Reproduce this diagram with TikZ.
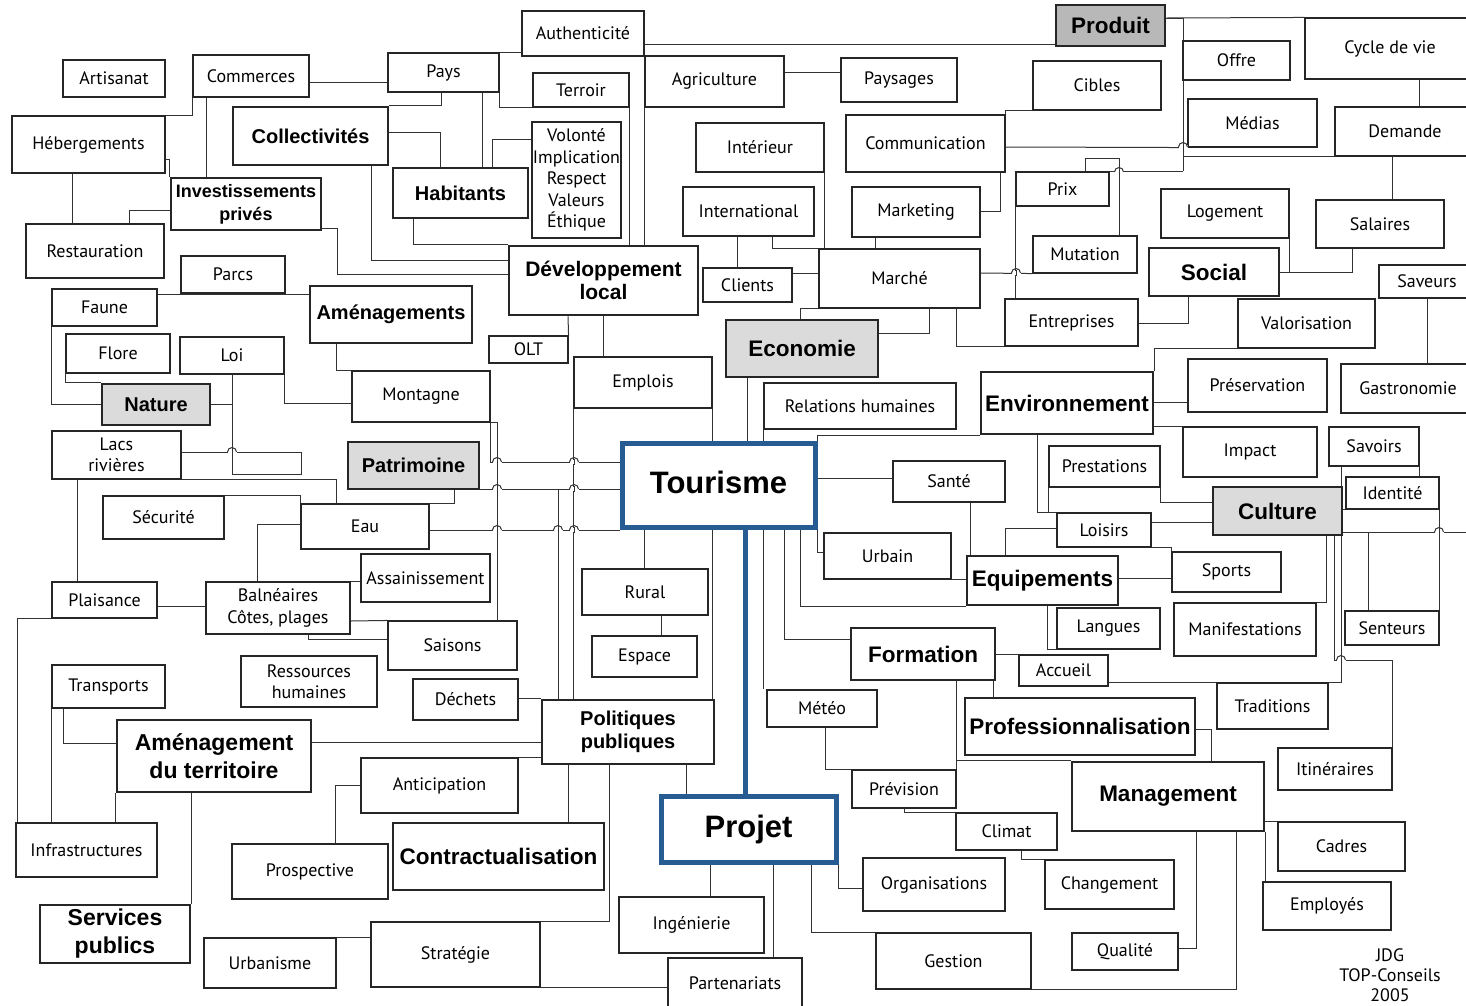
\documentclass[tikz,border=0pt]{standalone}
\usepackage{fontspec}
\setmainfont{PT Sans}
\newfontfamily\headfont{Liberation Sans}
\usetikzlibrary{backgrounds}
\definecolor{tourblue}{RGB}{38,92,145}
\tikzset{
  box/.style={draw=black!85, line width=1.1pt, fill=white, inner sep=0pt, align=center,
    font=\fontsize{18}{21.5}\selectfont},
  wh/.style 2 args={minimum width=#1, minimum height=#2},
  keybox/.style={box, line width=2.6pt, font=\headfont\bfseries\fontsize{22.5}{26}\selectfont},
  smallkey/.style={keybox, font=\headfont\bfseries\fontsize{20}{23}\selectfont},
  greybox/.style={fill=black!14},
  hub/.style={box, draw=tourblue, line width=5pt, font=\headfont\bfseries\fontsize{31}{34}\selectfont},
  link/.style={draw=black!80, line width=1pt},
  hubline/.style={draw=tourblue, line width=5pt},
}
% small bump where a line jumps over another one
\newcommand\linehop[1]{%
  \fill[white] (#1) ++(-4.5,-1.6) rectangle ++(9,3.2);
  \draw[link] (#1) ++(0,-3) -- ++(0,6);
  \draw[link] (#1) ++(-4.5,0) arc[start angle=180, end angle=360, radius=4.5];}

\begin{document}
\begin{tikzpicture}[x=1pt, y=-1pt]
  \useasboundingbox (0,0) rectangle (1466,1005);

  % left column
  \node[box, wh={102}{37}] (artisanat) at (114,78.5) {Artisanat};
  \node[box, wh={116}{42}] (commerces) at (251,76) {Commerces};
  \node[box, wh={153}{57}] (hebergements) at (88.5,144.5) {Hébergements};
  \node[smallkey, wh={155}{58}] (collectivites) at (310.5,136) {Collectivités};
  \node[keybox, wh={150}{52}, font=\headfont\bfseries\fontsize{18}{23}\selectfont] (investissements) at (246,204) {Investissements\\privés};
  \node[box, wh={138}{54}] (restauration) at (95,251) {Restauration};
  \node[box, wh={104}{37}] (parcs) at (233,274.5) {Parcs};
  \node[box, wh={105}{37}] (faune) at (104.5,307.5) {Faune};
  \node[smallkey, wh={162}{57}] (amenagements) at (391,314.5) {Aménagements};
  \node[box, wh={104}{39}] (flore) at (118,353.5) {Flore};
  \node[box, wh={104}{37}] (loi) at (232,355.5) {Loi};
  \node[smallkey, greybox, wh={108}{41}] (nature) at (156,404.5) {Nature};
  \node[box, wh={129}{48}] (lacs) at (116.5,455) {Lacs\\rivières};
  \node[box, wh={121}{43}] (securite) at (163.5,517.5) {Sécurité};
  \node[box, wh={128}{45}] (eau) at (365,526.5) {Eau};
  \node[box, wh={105}{36}] (plaisance) at (104.5,600) {Plaisance};
  \node[box, wh={144}{52}] (balneaires) at (278,608) {Balnéaires\\Côtes, plages};
  \node[box, wh={129}{48}] (assainissement) at (425.5,578) {Assainissement};
  \node[box, wh={113}{43}] (transports) at (108.5,686.5) {Transports};
  \node[box, wh={136}{51}] (ressources) at (309,681.5) {Ressources\\humaines};
  \node[keybox, wh={194}{72}, font=\headfont\bfseries\fontsize{23}{28}\selectfont] (amenterr) at (214,756) {Aménagement\\du territoire};
  \node[box, wh={141}{54}] (infrastructures) at (86.5,850) {Infrastructures};
  \node[box, wh={156}{55}] (prospective) at (310,871.5) {Prospective};
  \node[keybox, wh={150}{58}, font=\headfont\bfseries\fontsize{23}{28}\selectfont] (services) at (115,934) {Services\\publics};
  \node[box, wh={132}{50}] (urbanisme) at (270,963) {Urbanisme};

  % centre column
  \node[box, wh={122}{45}] (authenticite) at (583,33.5) {Authenticité};
  \node[box, wh={111}{39}] (pays) at (443.5,72.5) {Pays};
  \node[box, wh={96}{34}] (terroir) at (581,90) {Terroir};
  \node[box, line width=1.8pt, wh={89}{116}] (volonte) at (576.5,180) {Volonté\\Implication\\Respect\\Valeurs\\Éthique};
  \node[smallkey, wh={135}{50}] (habitants) at (460.5,193) {Habitants};
  \node[keybox, wh={189}{69}, font=\headfont\bfseries\fontsize{21}{23}\selectfont] (devlocal) at (603.5,280.5) {Développement\\local};
  \node[box, wh={79}{27}] (olt) at (528.5,349.5) {OLT};
  \node[box, wh={138}{51}] (montagne) at (421,396.5) {Montagne};
  \node[box, wh={138}{51}] (emplois) at (643,382.5) {Emplois};
  \node[smallkey, greybox, wh={131}{47}] (patrimoine) at (413.5,465.5) {Patrimoine};
  \node[hub, wh={193}{84}] (tourisme) at (718.5,485) {\raisebox{6pt}{Tourisme}};
  \node[box, wh={129}{49}] (saisons) at (452.5,645.5) {Saisons};
  \node[box, wh={126}{46}] (rural) at (645,592) {Rural};
  \node[box, wh={105}{41}] (espace) at (644.5,656.5) {Espace};
  \node[box, wh={105}{41}] (dechets) at (465.5,699.5) {Déchets};
  \node[smallkey, wh={172}{64}] (politiques) at (628,732) {Politiques\\publiques};
  \node[box, wh={157}{55}] (anticipation) at (439.5,785.5) {Anticipation};
  \node[keybox, wh={211}{67}] (contractualisation) at (498.5,856.5) {Contractualisation};
  \node[box, wh={169}{65}] (strategie) at (455.5,954.5) {Stratégie};
  \node[box, wh={145}{56}] (ingenierie) at (691.5,925) {Ingénierie};
  \node[box, wh={134}{50}] (partenariats) at (735,983) {Partenariats};
  \node[hub, wh={175}{66}] (projet) at (748.5,829) {Projet};

  % right centre
  \node[box, wh={139}{51}] (agriculture) at (714.5,81.5) {Agriculture};
  \node[box, wh={116}{44}] (paysages) at (899,80) {Paysages};
  \node[keybox, fill=black!28, wh={109}{41}] (produit) at (1110.5,25.5) {Produit};
  \node[box, wh={128}{49}] (cibles) at (1097,85.5) {Cibles};
  \node[box, wh={128}{49}] (interieur) at (760,147.5) {Intérieur};
  \node[box, wh={159}{57}] (communication) at (925.5,143.5) {Communication};
  \node[box, wh={131}{49}] (international) at (748.5,211.5) {International};
  \node[box, wh={128}{50}] (marketing) at (916,212) {Marketing};
  \node[box, wh={93}{34}] (prix) at (1062.5,189) {Prix};
  \node[box, wh={104}{37}] (mutation) at (1085,254.5) {Mutation};
  \node[box, wh={161}{59}] (marche) at (899.5,278.5) {Marché};
  \node[box, wh={89}{34}] (clients) at (747.5,285) {Clients};
  \node[box, wh={133}{47}] (entreprises) at (1071.5,322.5) {Entreprises};
  \node[keybox, greybox, wh={152}{57}] (economie) at (802,348.5) {Economie};
  \node[box, wh={192}{46}] (relations) at (860,406) {Relations humaines};
  \node[keybox, wh={172}{62}] (environnement) at (1067,403) {Environnement};
  \node[box, wh={112}{41}] (sante) at (949,481.5) {Santé};
  \node[box, wh={111}{41}] (prestations) at (1104.5,466.5) {Prestations};
  \node[box, wh={127}{46}] (urbain) at (887.5,556) {Urbain};
  \node[box, wh={94}{34}] (loisirs) at (1104,530) {Loisirs};
  \node[keybox, wh={151}{49}] (equipements) at (1042.5,580.5) {Equipements};
  \node[box, wh={103}{41}] (langues) at (1108.5,628.5) {Langues};
  \node[keybox, wh={144}{52}] (formation) at (923,654) {Formation};
  \node[box, wh={89}{31}] (accueil) at (1063.5,670.5) {Accueil};
  \node[box, wh={110}{37}] (meteo) at (822,708.5) {Météo};
  \node[keybox, wh={230}{57}] (professionnalisation) at (1080,726.5) {Professionnalisation};
  \node[box, wh={104}{38}] (prevision) at (904,789) {Prévision};
  \node[box, wh={101}{37}] (climat) at (1006.5,831.5) {Climat};
  \node[keybox, wh={192}{69}] (management) at (1168,796.5) {Management};
  \node[box, wh={142}{53}] (organisations) at (934,884.5) {Organisations};
  \node[box, wh={129}{49}] (changement) at (1109.5,884.5) {Changement};
  \node[box, wh={155}{56}] (gestion) at (953.5,961) {Gestion};
  \node[box, wh={106}{37}] (qualite) at (1125,951.5) {Qualité};

  % right column
  \node[box, wh={107}{39}] (offre) at (1236.5,60.5) {Offre};
  \node[box, wh={170}{61}] (cycle) at (1390,48.5) {Cycle de vie};
  \node[box, wh={129}{48}] (medias) at (1252.5,123) {Médias};
  \node[box, wh={140}{49}] (demande) at (1405,131.5) {Demande};
  \node[box, wh={128}{49}] (logement) at (1225,213.5) {Logement};
  \node[box, wh={128}{48}] (salaires) at (1380,224) {Salaires};
  \node[keybox, wh={130}{48}] (social) at (1214,272) {Social};
  \node[box, wh={96}{33}] (saveurs) at (1427,281.5) {Saveurs};
  \node[box, wh={137}{49}] (valorisation) at (1306.5,323.5) {Valorisation};
  \node[box, wh={139}{53}] (preservation) at (1257.5,385.5) {Préservation};
  \node[box, wh={134}{49}] (gastronomie) at (1408,388.5) {Gastronomie};
  \node[box, wh={134}{50}] (impact) at (1250,452) {Impact};
  \node[box, wh={90}{39}] (savoirs) at (1374,446.5) {Savoirs};
  \node[box, wh={93}{32}] (identite) at (1392.5,493) {Identité};
  \node[keybox, greybox, wh={129}{48}] (culture) at (1277.5,511) {Culture};
  \node[box, wh={109}{40}] (sports) at (1226.5,572) {Sports};
  \node[box, wh={142}{53}] (manifestations) at (1245,629.5) {Manifestations};
  \node[box, wh={94}{34}] (senteurs) at (1392,628) {Senteurs};
  \node[box, wh={111}{46}] (traditions) at (1272.5,706) {Traditions};
  \node[box, wh={114}{42}] (itineraires) at (1335,769) {Itinéraires};
  \node[box, wh={127}{49}] (cadres) at (1341.5,846.5) {Cadres};
  \node[box, wh={128}{48}] (employes) at (1327,906) {Employés};
  \node[align=center, inner sep=0pt, font=\fontsize{18}{20}\selectfont] (signature) at (1390,975) {JDG\\TOP-Conseils\\2005};

  \begin{scope}[on background layer, every path/.style={link}]
    % top left
    \draw (commerces.south west) |- (hebergements.north east);
    \draw (commerces.south -| 206,0) -- (investissements.north -| 206,0);
    \draw (commerces.east |- 0,82) -- (pays.west |- 0,82);
    \draw (hebergements.east |- 0,159) -| (investissements.north west);
    \draw (hebergements.south -| 72,0) -- (restauration.north -| 72,0);
    \draw (investissements.west |- 0,210) -| (restauration.north -| 129,0);
    \draw (investissements.east |- 0,228) -| (337,274) -- (devlocal.west |- 0,274);
    \draw (collectivites.south -| 371,0) |- (devlocal.west |- 0,260);
    \draw (pays.south -| 441,0) |- (collectivites.north east);
    \draw (pays.south -| 482,0) -- (habitants.north -| 482,0);
    \draw (pays.north east) -- (authenticite.west |- pays.north east);
    \draw (pays.south east) |- (terroir.south west);
    \draw (collectivites.east |- 0,132) -| (habitants.north -| 440,0);
    \draw (volonte.west |- 0,139) -| (habitants.north -| 492,0);
    \draw (habitants.south -| 413,0) |- (devlocal.north west);
    \draw (terroir.south east) -- (devlocal.north -| terroir.south east);
    \draw (authenticite.east |- 0,44) -- (produit.west |- 0,44);
    \draw (authenticite.south east) -- (devlocal.north -| authenticite.south east);
    % nature
    \draw (faune.east |- 0,294) -- (amenagements.west |- 0,294);
    \draw (faune.south west) |- (nature.west);
    \draw (flore.south west) |- (nature.north west);
    \draw (nature.east) -- (nature.east -| loi.south);
    \draw (loi.south) -- (232,474) -- (301,474) -- (301,452) -- (lacs.east |- 0,452);
    \draw (loi.south east) |- (montagne.west |- 0,403);
    \draw (amenagements.south -| 336,0) |- (montagne.north west);
    \draw (lacs.south east) -| (eau.north -| 336,0);
    \draw (patrimoine.south -| 454,0) |- (eau.north east);
    \draw (securite.north east) -| (eau.north west);
    \draw (eau.west |- 0,524) -| (balneaires.north -| 257,0);
    \draw (lacs.south -| 77,0) -- (plaisance.north -| 77,0);
    \draw (plaisance.east |- 0,606) -- (balneaires.west |- 0,606);
    \draw (plaisance.south west) -| (infrastructures.north -| 17,0);
    \draw (balneaires.north east) -- (assainissement.west |- balneaires.north east);
    \draw (balneaires.east |- 0,621) -- (saisons.north west);
    \draw (balneaires.south -| 308,0) |- (saisons.west |- 0,639);
    % into Tourisme from the left
    \draw (montagne.south east) |- (tourisme.west |- 0,462);
    \draw (montagne.south east) -| (saisons.north -| 497,0);
    \draw (patrimoine.east |- 0,489) -- (tourisme.west |- 0,489);
    \draw (patrimoine.east |- 0,489) -| (politiques.north -| 558,0);
    \draw (eau.east |- 0,530) -- (tourisme.west |- 0,530);
    \draw (devlocal.south -| 568,0) -- (olt.north east);
    \draw (devlocal.south -| 603,0) -- (emplois.north -| 603,0);
    \draw (emplois.south west) -- (politiques.north -| emplois.south west);
    \draw (emplois.south -| 712,0) -- (tourisme.north -| 712,0);
    \draw (tourisme.south -| 712,0) -- (politiques.north -| 712,0);
    \draw (tourisme.south -| 644,0) -- (rural.north -| 644,0);
    \draw (rural.south -| 661,0) -- (espace.north -| 661,0);
    % market
    \draw (agriculture.east |- 0,72) -- (paysages.west |- 0,72);
    \draw (interieur.south east) -- (interieur.south east |- marche.north);
    \draw (international.south -| 772,0) |- (marche.north west);
    \draw (international.south -| 737,0) -- (clients.north -| 737,0);
    \draw (marketing.south -| 875,0) -- (marche.north -| 875,0);
    \draw (clients.east |- 0,273) -- (marche.west |- 0,273);
    \draw (communication.south -| 1000,0) |- (marketing.east |- 0,211);
    \draw (communication.north east) |- (cibles.south west);
    \draw (communication.east |- 0,147) -- (medias.south west);
    \draw (marche.east |- 0,273) -- (mutation.south west);
    \draw (prix.north west) -- (prix.north west |- entreprises.north);
    \draw (marche.south west) -| (economie.north -| 800,0);
    \draw (economie.east |- 0,333) -| (marche.south -| 929,0);
    \draw (marche.south -| 956,0) |- (entreprises.south west);
    \draw (social.south -| 1188,0) |- (entreprises.east |- 0,323);
    % product
    \draw (produit.east |- 0,18) -- (cycle.north west);
    \draw (produit.east |- 0,18) -| (prix.north -| 1183,0);
    \draw (prix.north east) -- (prix.north east -| 1183,0);
    \draw (demande.south west) -- (demande.south west -| 1183,0);
    \draw (prix.north -| 1085,0) -- (1085,158) -| (mutation.north -| 1119,0);
    \draw (cycle.south -| 1419,0) -- (demande.north -| 1419,0);
    \draw (demande.south -| 1392,0) -- (salaires.north -| 1392,0);
    \draw (social.east |- 0,272) -| (salaires.south -| 1352,0);
    \draw (logement.south east) -- (logement.south east |- social.east);
    \draw (saveurs.south -| 1427,0) -- (gastronomie.north -| 1427,0);
    % environment and culture
    \draw (valorisation.south west) -| (environnement.north east);
    \draw (environnement.east |- 0,402) -- (preservation.west |- 0,402);
    \draw (environnement.east |- impact.north) -- (impact.north west);
    \draw (environnement.south -| 1037,0) |- (loisirs.north west);
    \draw (prestations.south west) -- (prestations.south west |- loisirs.north);
    \draw (prestations.south east) |- (culture.west |- 0,502);
    \draw (loisirs.east |- 0,522) -- (culture.west |- 0,522);
    \draw (loisirs.south east) -| (sports.north west);
    \draw (equipements.east |- 0,578) -- (sports.west |- 0,578);
    \draw (equipements.north -| 1005,0) |- (loisirs.west |- 0,528);
    \draw (sante.south -| 970,0) -- (equipements.north -| 970,0);
    \draw (tourisme.east |- 0,478) -- (sante.west |- 0,478);
    \draw (tourisme.north east) |- (environnement.south west);
    \draw (tourisme.south east) |- (urbain.west |- 0,552);
    \draw (urbain.south east) -- (equipements.west |- urbain.south east);
    \draw (tourisme.south -| 800,0) |- (equipements.south west);
    \draw (tourisme.south -| 784,0) |- (formation.west |- 0,639);
    \draw (economie.south -| 747,0) -- (tourisme.north -| 747,0);
    \draw (relations.south west) -- (relations.south west |- meteo.north);
    \draw (savoirs.south -| 1341,0) -- (culture.north -| 1341,0);
    \draw (savoirs.south -| 1419,0) -- (identite.north -| 1419,0);
    \draw (culture.east |- identite.south) -- (identite.south west);
    \draw (identite.south east) -- (senteurs.north east);
    \draw (culture.east |- 0,532) -- (1466,532);
    \draw (culture.east |- 0,532) -| (senteurs.north -| 1368,0);
    \draw (culture.south -| 1326,0) |- (manifestations.north east);
    \draw (culture.south -| 1341,0) |- (traditions.north east);
    \draw (accueil.east |- traditions.north) -- (traditions.north west);
    \draw (culture.south -| 1334,0) -- (1334,660) -| (itineraires.north east);
    % training and management
    \draw (formation.east |- accueil.north) -- (accueil.north west);
    \draw (formation.south -| 993,0) -- (professionnalisation.north -| 993,0);
    \draw (formation.south -| 956,0) |- (management.north west);
    \draw (prevision.north east) -- (prevision.north east |- management.north);
    \draw (professionnalisation.east |- 0,729) -| (management.north -| 1211,0);
    \draw (equipements.south -| 1047,0) |- (langues.south west);
    \draw (meteo.south -| 825,0) |- (prevision.north west);
    \draw (prevision.south) |- (climat.north west);
    \draw (climat.south -| 1021,0) |- (changement.north west);
    \draw (projet.south east) |- (organisations.west |- 0,888);
    \draw (projet.south -| 811,0) |- (gestion.north west);
    \draw (projet.south -| 773,0) -- (partenariats.north -| 773,0);
    \draw (projet.south -| 710,0) -- (ingenierie.north -| 710,0);
    \draw (gestion.south east) -| (management.south -| 1236,0);
    \draw (qualite.east |- 0,948) -| (management.south -| 1196,0);
    \draw (management.east |- cadres.north) -- (cadres.north west);
    \draw (management.south east) -- (management.south east |- employes.north);
    % territory and public policy
    \draw (transports.south west) -- (transports.south west |- infrastructures.north);
    \draw (transports.south -| 63,0) |- (amenterr.west |- 0,743);
    \draw (amenterr.south west) -- (amenterr.south west |- infrastructures.north);
    \draw (amenterr.south -| services.north east) -- (services.north east);
    \draw (amenterr.east |- 0,742) -- (politiques.west |- 0,742);
    \draw (anticipation.north east) -- (politiques.west |- anticipation.north east);
    \draw (dechets.east |- politiques.north) -- (politiques.north west);
    \draw (politiques.south -| 568,0) -- (contractualisation.north -| 568,0);
    \draw (politiques.south -| 609,0) |- (strategie.north west);
    \draw (politiques.south -| 686,0) -- (projet.north -| 686,0);
    \draw (strategie.south east) -- (partenariats.west |- strategie.south east);
    \draw (urbanisme.north east) -- (strategie.west |- urbanisme.north east);
    \draw (prospective.north -| 335,0) |- (anticipation.west);
  \end{scope}

  \draw[hubline] (tourisme.south -| 745,0) -- (projet.north -| 745,0);

  % jumps
  \linehop{232,452}
  \linehop{497,462} \linehop{574,462}
  \linehop{497,489} \linehop{574,489}
  \linehop{497,530} \linehop{558,530} \linehop{574,530}
  \linehop{1016,273} \linehop{1119,172} \linehop{1183,147}
  \linehop{1439,532} \linehop{1341,660}
\end{tikzpicture}
\end{document}
